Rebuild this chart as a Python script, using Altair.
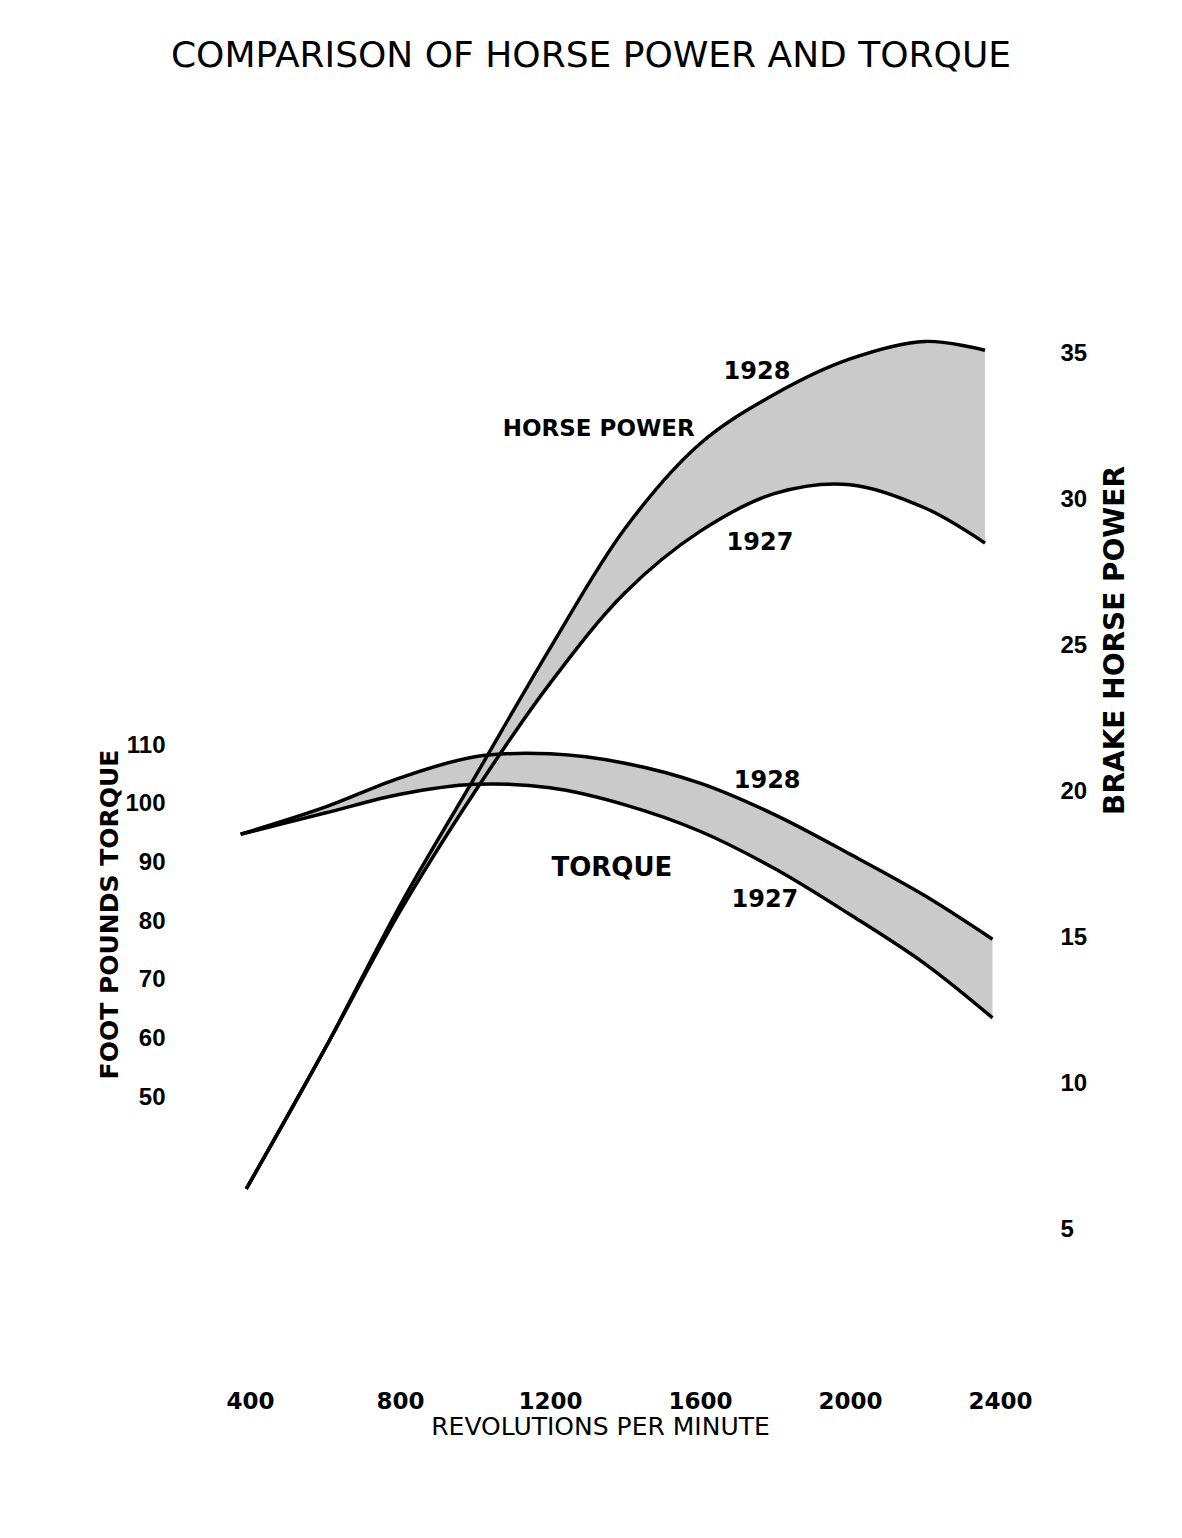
import altair as alt
import pandas as pd

FONT = "DejaVu Sans"
NUM_FONT = "Liberation Sans"

title_text = "COMPARISON OF HORSE POWER AND TORQUE"

# Horse power curves (brake horse power, right axis)
rpm_hp = [390, 600, 800, 1000, 1200, 1400, 1600, 1800, 2000, 2200, 2360]
hp_1927 = [6.4, 11.2, 15.9, 20.0, 23.7, 26.8, 28.9, 30.2, 30.5, 29.7, 28.5]
hp_1928 = [6.4, 11.2, 16.1, 20.5, 24.9, 29.0, 31.9, 33.6, 34.8, 35.4, 35.1]

# Torque curves (foot pounds, left axis)
rpm_tq = [375, 600, 800, 1000, 1200, 1400, 1600, 1800, 2000, 2200, 2380]
tq_1927 = [94.8, 98.4, 101.6, 103.3, 102.7, 99.8, 95.3, 88.9, 81.1, 72.7, 63.5]
tq_1928 = [94.8, 99.4, 104.4, 108.0, 108.5, 106.9, 103.5, 98.1, 91.4, 84.3, 76.9]

years = ["1927", "1928"]

rpm_ticks = [400, 800, 1200, 1600, 2000, 2400]
tq_ticks = [50, 60, 70, 80, 90, 100, 110]
hp_ticks = [5, 10, 15, 20, 25, 30, 35]

# Curve annotations
hp_year_text = ["1928", "1927"]
hp_year_rpm = [1752, 1760]
hp_year_val = [34.35, 28.5]
tq_year_text = ["1928", "1927"]
tq_year_rpm = [1779, 1773]
tq_year_val = [103.9, 83.5]
hp_name_text = ["HORSE POWER"]
hp_name_rpm = [1330]
hp_name_val = [32.4]
tq_name_text = ["TORQUE"]
tq_name_rpm = [1365]
tq_name_val = [89.0]

# ---- tables ----
hp_band = pd.DataFrame({"rpm": rpm_hp, "lo": hp_1927, "hi": hp_1928})
tq_band = pd.DataFrame({"rpm": rpm_tq, "lo": tq_1927, "hi": tq_1928})
hp_long = pd.DataFrame({
    "rpm": rpm_hp + rpm_hp,
    "val": hp_1927 + hp_1928,
    "year": [years[0]] * len(rpm_hp) + [years[1]] * len(rpm_hp),
})
tq_long = pd.DataFrame({
    "rpm": rpm_tq + rpm_tq,
    "val": tq_1927 + tq_1928,
    "year": [years[0]] * len(rpm_tq) + [years[1]] * len(rpm_tq),
})
hp_year_df = pd.DataFrame({"rpm": hp_year_rpm, "val": hp_year_val, "label": hp_year_text})
tq_year_df = pd.DataFrame({"rpm": tq_year_rpm, "val": tq_year_val, "label": tq_year_text})
hp_name_df = pd.DataFrame({"rpm": hp_name_rpm, "val": hp_name_val, "label": hp_name_text})
tq_name_df = pd.DataFrame({"rpm": tq_name_rpm, "val": tq_name_val, "label": tq_name_text})

# ---- scales & axes ----
x_scale = alt.Scale(domain=[360, 2440], nice=False, zero=False)
hp_scale = alt.Scale(domain=[0, 40], nice=False, zero=False)
tq_scale = alt.Scale(domain=[2.45, 201.7], nice=False, zero=False)

common = dict(domain=False, ticks=False, grid=False, labelFontWeight="bold",
              labelColor="black", labelOverlap=False, labelFlush=False, format="d",
              titleFont=FONT, titleColor="black")

x_axis = alt.Axis(orient="bottom", values=rpm_ticks, title="REVOLUTIONS PER MINUTE",
                  labelFont=FONT, labelFontSize=23,
                  labelPadding=14, titleFontSize=25, titleFontWeight="normal",
                  titleX=365, titleY=50, titleAlign="center", titleBaseline="middle",
                  titleAngle=0, **common)
left_axis = alt.Axis(orient="left", values=tq_ticks, title="FOOT POUNDS TORQUE",
                     labelFont=NUM_FONT, labelFontSize=24,
                     labelPadding=70, titleFontSize=25, titleFontWeight="bold", titleAngle=270,
                     titleX=-126, titleY=707, titleAlign="center", titleBaseline="middle",
                     **common)
right_axis = alt.Axis(orient="right", values=hp_ticks, title="BRAKE HORSE POWER",
                      labelFont=NUM_FONT, labelFontSize=24,
                      labelPadding=45, titleFontSize=28, titleFontWeight="bold", titleAngle=270,
                      titleX=100, titleY=433, titleAlign="center", titleBaseline="middle",
                      **common)


def X():
    return alt.X("rpm:Q", scale=x_scale, axis=x_axis)


band_style = dict(color="#c4c4c4", opacity=0.9, interpolate="catmull-rom")
line_style = dict(color="black", strokeWidth=3.5, interpolate="catmull-rom")

hp_area = alt.Chart(hp_band).mark_area(**band_style).encode(
    x=X(),
    y=alt.Y("lo:Q", scale=hp_scale, axis=None),
    y2="hi:Q",
)
tq_area = alt.Chart(tq_band).mark_area(**band_style).encode(
    x=X(),
    y=alt.Y("lo:Q", scale=tq_scale, axis=None),
    y2="hi:Q",
)
tq_lines = alt.Chart(tq_long).mark_line(**line_style).encode(
    x=X(),
    y=alt.Y("val:Q", scale=tq_scale, axis=left_axis),
    detail="year:N",
)
hp_lines = alt.Chart(hp_long).mark_line(**line_style).encode(
    x=X(),
    y=alt.Y("val:Q", scale=hp_scale, axis=right_axis),
    detail="year:N",
)


def text_layer(df, scale, size):
    return alt.Chart(df).mark_text(font=FONT, fontSize=size, fontWeight="bold", color="black",
                                   align="center", baseline="middle").encode(
        x=X(),
        y=alt.Y("val:Q", scale=scale, axis=None),
        text="label:N",
    )


chart = alt.layer(
    tq_area,
    hp_area,
    tq_lines,
    hp_lines,
    text_layer(hp_year_df, hp_scale, 24),
    text_layer(tq_year_df, tq_scale, 24),
    text_layer(hp_name_df, hp_scale, 23),
    text_layer(tq_name_df, tq_scale, 26),
).resolve_scale(y="independent").properties(
    width=780,
    height=1169,
    title=alt.TitleParams(title_text, font=FONT, fontSize=36, fontWeight="normal",
                          color="black", anchor="middle", dx=-34, offset=104,
                          baseline="alphabetic"),
    autosize=alt.AutoSizeParams(type="none"),
    padding={"left": 227, "top": 199, "right": 150, "bottom": 140},
    background="white",
).configure_view(stroke=None)

chart.save("out.html", embed_options={"renderer": "svg", "actions": False})
